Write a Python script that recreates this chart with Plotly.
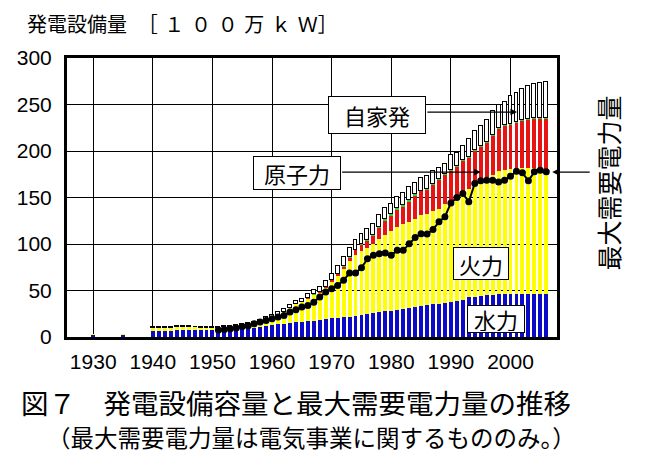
import plotly.graph_objects as go

years = [1930, 1935] + list(range(1940, 2007))

hydro = [2.5, 2.5,
         6.5, 6.6, 6.7, 6.8, 7.0, 7.0, 7.1, 7.2, 7.3, 7.4, 7.5,
         7.7, 8.0, 8.3, 8.6, 9.0, 9.5, 10.0, 10.8, 11.5, 12.5,
         13.5, 14.5, 15.5, 16.0, 16.5, 17.0, 17.5, 18.5, 19.0,
         20, 20.5, 21, 22, 23, 24, 25, 26, 27, 28, 28.5, 29.5, 30.5, 31.5, 32,
         33, 34, 35, 36, 37, 37.5, 38.5, 39.5, 42.5, 43.5, 44, 45, 45.5, 46, 46, 46, 46, 46, 46, 46, 46, 46]

thermal = [0.4, 0.6,
           3.2, 3.2, 3.2, 3.3, 3.5, 3.5, 3.4, 3.2, 2.8, 2.7, 2.6,
           2.4, 2.5, 2.5, 2.7, 2.5, 3.1, 4.0, 5.0, 6.5, 7.7,
           10.4, 12.2, 15.5, 19.0, 21.0, 24.8, 28.3, 29.8, 34.7,
           40, 45.5, 52, 60, 65, 69, 71, 74, 78, 82, 85, 88.5, 90.5, 92.5, 95,
           98, 98.5, 101, 102, 106.5, 109.5, 112.5, 117.5, 117, 123.5, 126, 127.5, 128.5, 133, 133.5, 135, 136, 136, 136, 135.5, 135, 135]

nuclear = [0, 0,
           0, 0, 0, 0, 0, 0, 0, 0, 0, 0, 0,
           0, 0, 0, 0, 0, 0, 0, 0, 0, 0,
           0, 0, 0, 0, 0, 0.2, 0.2, 0.2, 0.5,
           1.3, 1.8, 2.8, 3.8, 5.8, 6.8, 7.8, 9.0, 12.5, 15.5, 17.5, 19.5, 19.5, 21.5, 25.5,
           26, 26.5, 28.5, 31.5, 31.5, 32, 32.5, 33, 33.5, 34, 34.5, 36.5, 43, 45, 48, 48, 49, 51, 51.5, 53, 53.5, 53.5]

other = [0, 0,
         0, 0, 0, 0, 0, 0, 0, 0, 0, 0, 0,
         0, 0, 0, 0, 0, 0, 0, 0, 0, 0,
         0, 0, 0, 0, 0, 0.1, 0.1, 0.1, 0.1,
         0.2, 0.2, 0.2, 0.2, 0.2, 0.2, 0.2, 0.2, 0.8, 1.5, 1.5, 1.5, 1.5, 1.5, 1.0,
         0.5, 0.5, 0.5, 0.5, 0.5, 0.5, 0.5, 0.5, 0.5, 0.5, 0.5, 0.5, 0.5, 0.5, 0.5, 0.5, 0.5, 0.5, 0.5, 0.5, 0.5, 0.5]

self_gen = [None, None,
            0.8, 0.8, 0.8, 0.8, 0.8, 0.8, 0.8, 0.8, 0.8, 0.8, 0.8,
            0.9, 1.0, 1.2, 1.5, 2.0, 2.2, 2.5, 2.7, 3.0, 3.3,
            3.5, 3.7, 3.8, 3.8, 3.8, 4.0, 4.2, 5.0, 6.0,
            6.5, 8.5, 9.5, 10, 10.5, 10.5, 12, 12.5, 12.5, 11.5, 11, 11.5, 13, 14, 12,
            13.5, 14, 14, 12, 11, 16, 14, 15, 19, 20.5, 22, 23.5, 25, 25, 25, 29.5, 30.5, 33, 36, 37, 38.5, 39.5]

peak_demand = [None, None,
               None, None, None, None, None, None, None, None, None, None, None,
               7.5, 8.0, 8.8, 9.8, 11.4, 12.0, 14.2, 16.0, 17.8, 19.6,
               21.4, 23.2, 26.8, 29.3, 32.2, 34.0, 37.5, 43.0, 48.3,
               52, 55.5, 60.9, 68.8, 68.8, 74.5, 84.2, 87.8, 89.6, 90.3, 87.8, 93.2, 93.2, 100.4, 106.9,
               111.0, 110.8, 115.6, 123.8, 129.2, 144.2, 150, 154.3, 145.3, 165, 167.9, 168.6, 168.6, 166.8, 168.6,
               172.9, 178.3, 176.5, 167.9, 177.6, 179.4, 177.6]

x_ticks = [1930, 1940, 1950, 1960, 1970, 1980, 1990, 2000]
y_ticks = [0, 50, 100, 150, 200, 250, 300]

FONT = "Liberation Sans, Arial, Noto Sans CJK JP"
JP = "Noto Sans CJK JP, Liberation Sans"
BW = 0.66

fig = go.Figure()
for vals, col in [(hydro, "#0a0ac8"), (thermal, "#ffff00"), (nuclear, "#e81414"), (other, "#33cc33")]:
    fig.add_trace(go.Bar(x=years, y=vals, width=BW, marker=dict(color=col, line=dict(width=0))))
fig.add_trace(go.Bar(x=years, y=self_gen, width=BW,
                     marker=dict(color="white", line=dict(color="black", width=1))))
fig.add_trace(go.Scatter(x=years, y=peak_demand, mode="lines+markers",
                         line=dict(color="black", width=2),
                         marker=dict(color="black", size=7),
                         connectgaps=False))

ax_common = dict(showgrid=True, gridcolor="black", gridwidth=1, showline=True, mirror=True,
                 linecolor="black", linewidth=3, ticks="", zeroline=False,
                 tickfont=dict(family=FONT, size=21, color="black"))
fig.update_layout(
    width=650, height=470,
    margin=dict(l=67, r=93, t=58, b=133),
    paper_bgcolor="white", plot_bgcolor="white",
    barmode="stack", bargap=0, showlegend=False,
    xaxis=dict(range=[1925.6, 2007.8], tickvals=x_ticks, ticktext=[str(v) for v in x_ticks],
               ticklabelstandoff=4, **ax_common),
    yaxis=dict(range=[0, 300], tickvals=y_ticks, ticklabelstandoff=8, **ax_common),
)

def box(text, x, y, w, h, size=22):
    fig.add_annotation(x=x, y=y, xref="x", yref="y", text=text, showarrow=False,
                       font=dict(family=JP, size=size, color="black"),
                       bgcolor="white", bordercolor="black", borderwidth=1,
                       borderpad=1, width=w, height=h)

def arrow(x0, y0, x1, y1):
    fig.add_annotation(x=x1, y=y1, ax=x0, ay=y0, xref="x", yref="y", axref="x", ayref="y",
                       text="", showarrow=True, arrowhead=2, arrowsize=1.1, arrowwidth=1.2,
                       arrowcolor="black")

arrow(1985.8, 241.9, 2001.1, 241.9)
arrow(1971.5, 177.3, 1995.0, 177.3)
box("自家発", 1977.55, 238.7, 94, 34)
box("原子力", 1964.2, 176.7, 84, 30)
box("火力", 1995.05, 78.9, 52, 29)
box("水力", 1997.6, 18.9, 54, 24)

# arrow from the right-side label to the end of the demand line
fig.add_annotation(x=2007.0, y=177.3, xref="x", yref="y", ax=39, ay=0, axref="pixel", ayref="pixel",
                   text="", showarrow=True, arrowhead=2, arrowsize=1.1, arrowwidth=1.2, arrowcolor="black")

fig.add_annotation(x=(608 - 67) / 490, y=(337 - 183) / 280, xref="paper", yref="paper",
                   xanchor="center", yanchor="middle",
                   text="最大需要電力量", textangle=-90, showarrow=False,
                   font=dict(family=JP, size=25, color="black"))

S = "\u2004"
title_txt = "発電設備量" + S + "\u2009［" + S + "１" + S + "０" + S + "０" + S + "万" + S + "ｋ" + S + "Ｗ］"
fig.add_annotation(x=(25 - 67) / 490, y=(337 - 22) / 280, xref="paper", yref="paper",
                   xanchor="left", yanchor="middle", showarrow=False,
                   text=title_txt, font=dict(family=JP, size=20, color="black"))
fig.add_annotation(x=(19 - 67) / 490, y=(337 - 402) / 280, xref="paper", yref="paper",
                   xanchor="left", yanchor="middle", showarrow=False,
                   text="図７　発電設備容量と最大需要電力量の推移", font=dict(family=JP, size=27.5, color="black"))
fig.add_annotation(x=(45 - 67) / 490, y=(337 - 437) / 280, xref="paper", yref="paper",
                   xanchor="left", yanchor="middle", showarrow=False,
                   text="（最大需要電力量は電気事業に関するもののみ。）", font=dict(family=JP, size=23.5, color="black"))

fig.write_html("out.html", config={"displayModeBar": False},
               post_script="document.body.style.margin='0';document.body.style.overflow='hidden';")
